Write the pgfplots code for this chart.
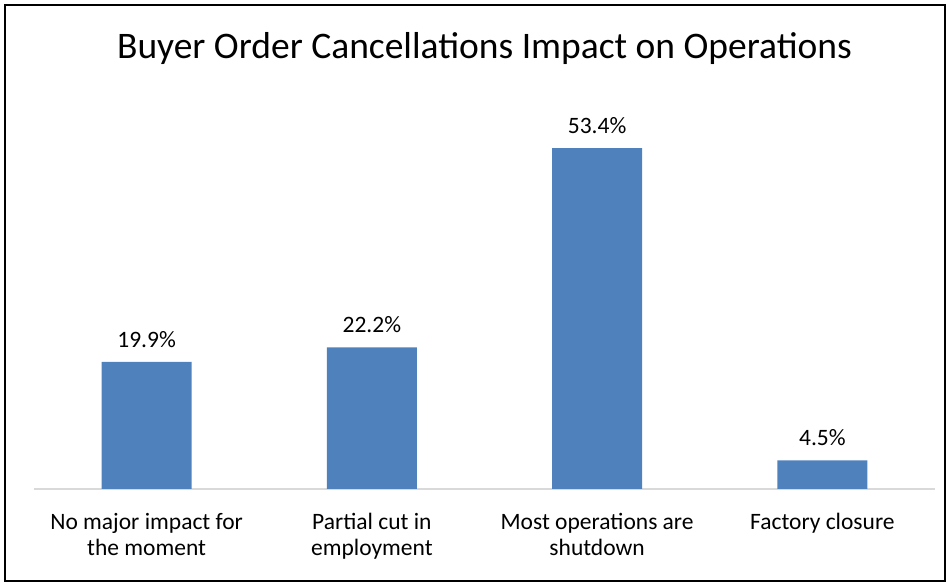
\documentclass[border=0pt]{standalone}
\usepackage{pgfplots}
\pgfplotsset{compat=1.18}
\usepackage{fontspec}
\setmainfont{Carlito}
\definecolor{barblue}{HTML}{4F81BD}
\definecolor{axgray}{HTML}{D9D9D9}
\begin{document}
\begin{tikzpicture}[x=1pt,y=1pt]
\useasboundingbox (-34,-94) rectangle (913,489);
\draw[line width=2pt] (-29,-92) rectangle (911,484);
\node[font=\fontsize{37.5}{42}\selectfont] at (450.5,440) {Buyer Order Cancellations Impact on Operations};
\begin{axis}[
  at={(0,0)}, anchor=south west,
  scale only axis, width=901pt, height=383pt,
  xmin=-0.5, xmax=3.5, ymin=0, ymax=60,
  axis y line=none,
  axis x line*=bottom,
  x axis line style={draw=axgray, line width=2pt, -},
  xtick={0,1,2,3},
  xticklabels={{No major impact for\\the moment},{Partial cut in\\employment},{Most operations are\\shutdown},{Factory closure}},
  xticklabel style={align=center, font=\fontsize{23.5}{26}\selectfont, anchor=north, yshift=-21pt},
  major tick length=0pt,
  ybar, bar width=90pt,
  /pgf/number format/assume math mode=true,
  nodes near coords={\pgfmathprintnumber[fixed,precision=1,fixed zerofill]{\pgfplotspointmeta}\%},
  nodes near coords style={font=\fontsize{23.5}{26}\selectfont, yshift=11pt},
  clip=false,
]
\addplot[fill=barblue, draw=none] coordinates {(0,19.9) (1,22.2) (2,53.4) (3,4.5)};
\end{axis}
\end{tikzpicture}
\end{document}
